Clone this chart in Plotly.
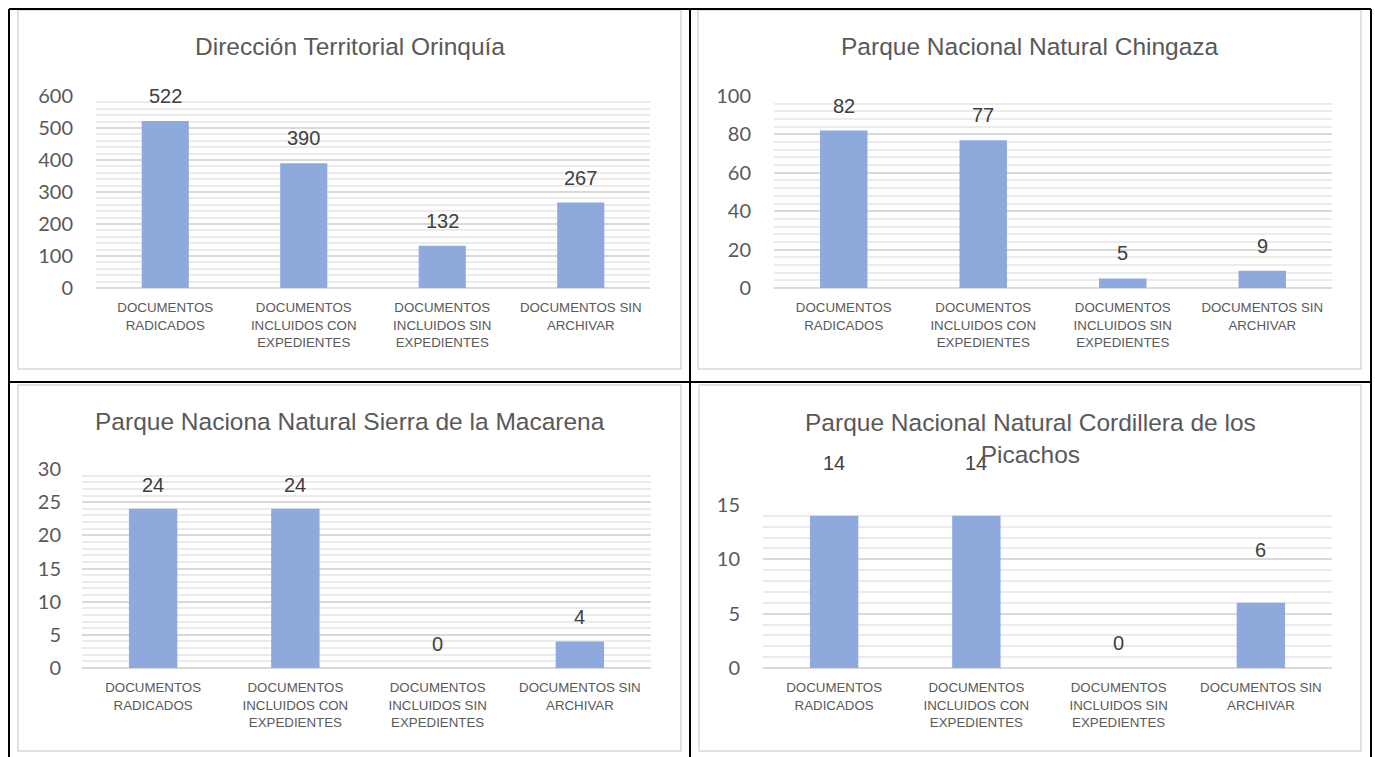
import plotly.graph_objects as go

W, H = 1375, 757

categories = ["DOCUMENTOS<br>RADICADOS",
              "DOCUMENTOS<br>INCLUIDOS CON<br>EXPEDIENTES",
              "DOCUMENTOS<br>INCLUIDOS SIN<br>EXPEDIENTES",
              "DOCUMENTOS SIN<br>ARCHIVAR"]

titles = ["Dirección Territorial Orinquía",
          "Parque Nacional Natural Chingaza",
          "Parque Naciona Natural Sierra de la Macarena",
          "Parque Nacional Natural Cordillera de los<br>Picachos"]

orinoquia = [522, 390, 132, 267]
chingaza = [82, 77, 5, 9]
macarena = [24, 24, 0, 4]
picachos = [14, 14, 0, 6]

series = [orinoquia, chingaza, macarena, picachos]
y_max = [600, 100, 30, 15]
y_dtick = [100, 20, 5, 5]
y_minor = [20, 4, 1, 1]

# layout in pixels: plot area (x0, x1, ytop, ybottom), frame (x0, x1, y0, y1), title y, label shift
plots = [
    dict(px=(96, 650, 96, 288), frame=(18, 681, 10, 369), ty=47, shift=25, standoff=22),
    dict(px=(774, 1332, 96, 288), frame=(698, 1361, 10, 369), ty=47, shift=25, standoff=22),
    dict(px=(82, 651, 469, 668), frame=(18, 681, 385, 751), ty=421, shift=24, standoff=20),
    dict(px=(763, 1332, 505, 668), frame=(699, 1361, 385, 751), ty=438, shift=25, standoff=22),
]

BAR = "#8EA9DB"
GRID = "#D9D9D9"
MINOR = "#EBEBEB"
TXT = "#595959"
SANS = "Liberation Sans, Arial, sans-serif"

fig = go.Figure()
shapes = []
annotations = []

def px2x(p):
    return p / W

def py2y(p):
    return 1 - p / H

for i, (vals, p) in enumerate(zip(series, plots)):
    n = "" if i == 0 else str(i + 1)
    xa, ya = "x" + n, "y" + n
    x0, x1, yt, yb = p["px"]
    fig.add_trace(go.Bar(x=categories, y=vals, xaxis=xa, yaxis=ya,
                         marker=dict(color=BAR, line=dict(width=0)),
                         width=0.34, hoverinfo="skip", showlegend=False))
    fig.layout["xaxis" + n] = dict(
        domain=[px2x(x0), px2x(x1)], anchor=ya, showgrid=False, showline=False,
        zeroline=False, ticks="", tickfont=dict(family=SANS, size=13.3, color=TXT),
        ticklabelstandoff=10, fixedrange=True, automargin=False)
    fig.layout["yaxis" + n] = dict(
        domain=[py2y(yb), py2y(yt)], anchor=xa, range=[0, y_max[i]],
        dtick=y_dtick[i], showgrid=True, gridcolor=GRID, gridwidth=2,
        zeroline=True, zerolinecolor=GRID, zerolinewidth=2,
        minor=dict(dtick=y_minor[i], showgrid=True, gridcolor=MINOR, gridwidth=1.5),
        showline=False, ticks="", tickfont=dict(family="Lato, sans-serif", size=20, color=TXT),
        ticklabelstandoff=p["standoff"], fixedrange=True, automargin=False)
    for c, v in zip(categories, vals):
        annotations.append(dict(x=c, y=v, xref=xa, yref=ya, text=str(v), showarrow=False,
                                yanchor="middle", yshift=p["shift"] if v == 0 or i != 3 else 53,
                                font=dict(family=SANS, size=20, color="#404040")))
    fx0, fx1, fy0, fy1 = p["frame"]
    shapes.append(dict(type="rect", xref="paper", yref="paper",
                       x0=px2x(fx0), x1=px2x(fx1), y0=py2y(fy1), y1=py2y(fy0),
                       line=dict(color="#D9D9D9", width=1.5), fillcolor="rgba(0,0,0,0)", layer="below"))
    annotations.append(dict(x=px2x((fx0 + fx1) / 2), y=py2y(p["ty"]), xref="paper", yref="paper",
                            text=titles[i], showarrow=False, xanchor="center", yanchor="middle",
                            font=dict(family=SANS, size=24.5, color=TXT)))

# table borders
for (a, b, c, d) in [(9, 9, 1371, 9), (9, 9, 9, 757), (1371, 9, 1371, 757),
                     (690, 9, 690, 757), (9, 382, 1371, 382)]:
    shapes.append(dict(type="line", xref="paper", yref="paper",
                       x0=px2x(a), y0=py2y(b), x1=px2x(c), y1=py2y(d),
                       line=dict(color="black", width=2)))

fig.update_layout(width=W, height=H, margin=dict(l=0, r=0, t=0, b=0, pad=0, autoexpand=False),
                  autosize=False,
                  paper_bgcolor="white", plot_bgcolor="white",
                  bargap=0.66, shapes=shapes, annotations=annotations)

fig.write_html("out.html", config={"displayModeBar": False},
               post_script="document.body.style.margin='0';document.body.style.overflow='hidden';")
